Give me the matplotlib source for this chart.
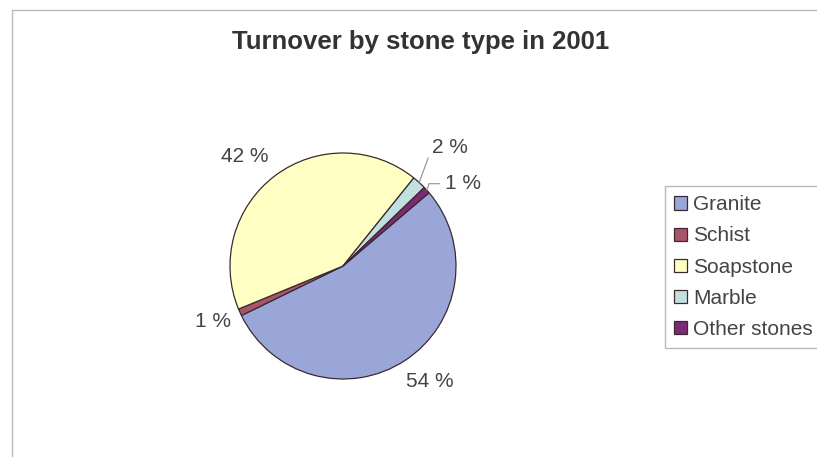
import matplotlib.pyplot as plt
import numpy as np
from matplotlib.patches import Rectangle

# data
stones = ["Granite", "Schist", "Soapstone", "Marble", "Other stones"]
shares = [54, 1, 42, 2, 1]
labels = ["54 %", "1 %", "42 %", "2 %", "1 %"]

colors = ["#9ba6d8", "#a8546a", "#ffffc4", "#c3e0e0", "#7b2a74"]

# label placement (radius factor, angle tweak in degrees)
label_r = [1.28, 1.25, 1.30, 1.31, 1.16]
label_dtheta = [3.9, -0.9, 5.1, 5.5, -3.3]
leader = [False, False, False, True, True]

plt.rcParams['font.family'] = ['Liberation Sans', 'DejaVu Sans']

fig = plt.figure(figsize=(8.17, 4.57), dpi=100)

# chart frame (scanned Excel look)
fig.patches.append(Rectangle((12 / 817, -0.1), 1.0, 1 - 10 / 457 + 0.1,
                             transform=fig.transFigure, fill=False,
                             edgecolor="#b8b8b8", linewidth=1.0))

L = 1.6
side = 2 * L * 113
ax = fig.add_axes([(343 - side / 2) / 817, (191 - side / 2) / 457, side / 817, side / 457])
ax.axis("off")

start = 90 - 49.6
wedges, _ = ax.pie(shares, colors=colors, startangle=start, counterclock=False,
                   radius=1.0, center=(0, 0), frame=False,
                   wedgeprops=dict(edgecolor="#3a2a30", linewidth=0.9))
ax.set_xlim(-L, L)
ax.set_ylim(-L, L)

for w, lab, r, dt, ld in zip(wedges, labels, label_r, label_dtheta, leader):
    mid = np.deg2rad((w.theta1 + w.theta2) / 2)
    tmid = mid + np.deg2rad(dt)
    tx, ty = r * np.cos(tmid), r * np.sin(tmid)
    if ld:
        ex, ey = np.cos(mid), np.sin(mid)
        ax.annotate(lab, xy=(ex, ey), xytext=(tx, ty), fontsize=15, color="#444444",
                    ha="left", va="center",
                    arrowprops=dict(arrowstyle="-", color="#999999", lw=0.9,
                                    connectionstyle="angle,angleA=0,angleB=70,rad=0",
                                    shrinkA=2, shrinkB=0))
    else:
        ax.text(tx, ty, lab, fontsize=15, color="#444444", ha="center", va="center")

fig.text(421 / 817, 1 - 42 / 457, "Turnover by stone type in 2001", ha="center", va="center",
         fontsize=18.5, fontweight="bold", color="#333333")

leg = fig.legend(wedges, stones, loc="upper left", bbox_to_anchor=(665 / 817, 1 - 186 / 457),
                 fontsize=15, frameon=True, fancybox=False, handlelength=0.6, handleheight=0.6,
                 handletextpad=0.3, labelspacing=0.58, borderpad=0.45, borderaxespad=0)
leg.get_frame().set_edgecolor("#a8a8a8")
leg.get_frame().set_linewidth(1.0)
for t in leg.get_texts():
    t.set_color("#444444")

fig.savefig("out.png", dpi=100)
